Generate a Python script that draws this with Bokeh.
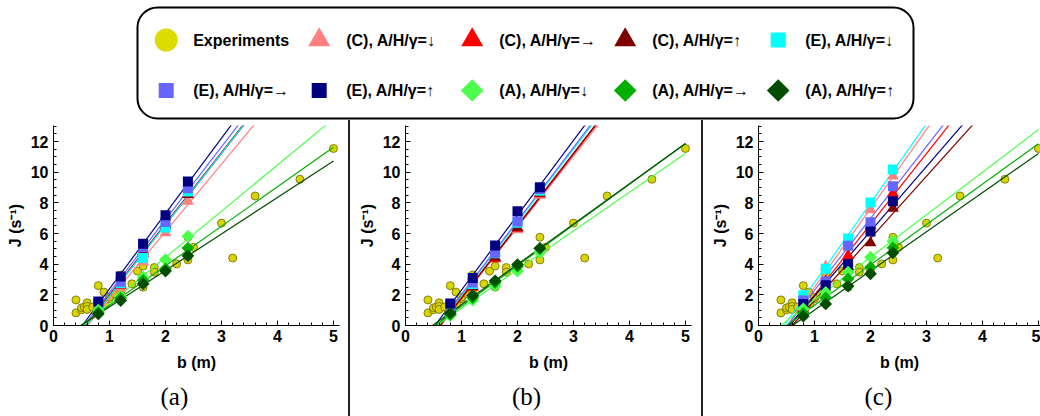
import numpy as np
from bokeh.plotting import figure
from bokeh.layouts import column, row
from bokeh.models import Range1d, SingleIntervalTicker, Title, Div, BoxAnnotation
from bokeh.core.properties import value
from bokeh.embed import file_html
from bokeh.resources import INLINE

# ---------------------------------------------------------------- data
# bottleneck width b (m) used in the simulations
b_sim = [0.8, 1.2, 1.6, 2.0, 2.4]

# experimental flow J (1/s) against bottleneck width b (m)
exp_b = [0.4, 0.4, 0.5, 0.5, 0.55, 0.6, 0.6, 0.6, 0.7, 0.8, 0.9, 0.92, 1.0, 1.0,
         1.1, 1.2, 1.2, 1.2, 1.4, 1.5, 1.6, 1.6, 1.8, 1.8, 2.0, 2.2, 2.4, 2.4,
         2.5, 3.0, 3.2, 3.6, 4.4, 5.0]
exp_j = [1.67, 0.82, 1.02, 1.15, 1.2, 1.48, 1.25, 1.05, 1.2, 2.6, 2.18, 1.42, 1.74, 1.85,
         2.07, 3.3, 2.2, 2.45, 2.72, 3.55, 3.88, 2.5, 3.78, 3.48, 3.55, 4.02, 4.28, 5.76,
         5.1, 6.68, 4.4, 8.45, 9.54, 11.55]

# panel (a)
a_c_down = [1.1, 2.45, 4.15, 6.05, 8.1]
a_c_right = [1.2, 2.6, 4.7, 6.5, 8.55]
a_c_up = [1.2, 2.7, 4.85, 6.6, 8.55]
a_e_down = [1.25, 2.75, 4.4, 6.4, 8.75]
a_e_right = [1.4, 2.85, 5.1, 6.75, 8.95]
a_e_up = [1.57, 3.2, 5.33, 7.2, 9.4]
a_a_down = [1.0, 1.9, 3.15, 4.3, 5.83]
a_a_right = [0.85, 1.78, 2.95, 3.7, 5.05]
a_a_up = [0.75, 1.63, 2.72, 3.55, 4.55]

# panel (b)
b_c_down = [1.05, 2.6, 4.4, 6.25, 8.5]
b_c_right = [1.1, 2.5, 4.35, 6.35, 8.6]
b_c_up = [1.15, 2.55, 4.45, 6.4, 8.65]
b_e_down = [1.25, 2.7, 4.72, 6.7, 8.8]
b_e_right = [1.3, 2.8, 4.75, 6.78, 8.9]
b_e_up = [1.43, 3.1, 5.22, 7.45, 9.02]
b_a_down = [0.65, 1.65, 2.6, 3.55, 4.75]
b_a_right = [0.72, 1.82, 2.8, 3.85, 5.02]
b_a_up = [0.8, 1.95, 2.92, 3.98, 5.04]

# panel (c)
c_c_down = [1.3, 3.85, 5.45, 7.55, 9.75]
c_c_right = [1.2, 2.9, 4.57, 6.5, 8.63]
c_c_up = [1.05, 2.35, 3.85, 5.39, 7.65]
c_e_down = [1.98, 3.7, 5.67, 8.02, 10.18]
c_e_right = [1.63, 2.87, 5.2, 6.74, 9.09]
c_e_up = [1.41, 2.63, 4.02, 6.13, 8.11]
c_a_down = [1.09, 2.17, 3.48, 4.46, 5.5]
c_a_right = [0.8, 1.8, 3.04, 3.8, 5.07]
c_a_up = [0.61, 1.41, 2.57, 3.37, 4.74]

series_labels = ["(C), A/H/γ=↓", "(C), A/H/γ=→", "(C), A/H/γ=↑",
                 "(E), A/H/γ=↓", "(E), A/H/γ=→", "(E), A/H/γ=↑",
                 "(A), A/H/γ=↓", "(A), A/H/γ=→", "(A), A/H/γ=↑"]
series_colors = ["#FF8080", "#FF0000", "#800000",
                 "#00FFFF", "#6666FF", "#000080",
                 "#4DFF4D", "#00B000", "#004D00"]
series_shapes = ["tri", "tri", "tri", "sq", "sq", "sq", "dia", "dia", "dia"]

panels = [
    ("(a)", [a_c_down, a_c_right, a_c_up, a_e_down, a_e_right, a_e_up, a_a_down, a_a_right, a_a_up]),
    ("(b)", [b_c_down, b_c_right, b_c_up, b_e_down, b_e_right, b_e_up, b_a_down, b_a_right, b_a_up]),
    ("(c)", [c_c_down, c_c_right, c_c_up, c_e_down, c_e_right, c_e_up, c_a_down, c_a_right, c_a_up]),
]

EXP_FILL = "#D8D400"
EXP_LINE = "#6E6A00"
SANS = "Liberation Sans"
SERIF = "Liberation Serif"

# marker look per shape: (bokeh marker, size, angle)
SHAPE_PLOT = {"tri": ("triangle", 12, 0.0), "sq": ("square", 10, 0.0), "dia": ("square", 9, np.pi / 4)}
SHAPE_LEG = {"tri": ("triangle", 22, 0.0), "sq": ("square", 15, 0.0), "dia": ("square", 16, np.pi / 4)}

PX_PER_B = 56.0
Y_END = 13.05


def make_panel(tag, series, width, left, right):
    frame_w = width - left - right
    p = figure(width=width, height=296,
               x_range=Range1d(0, frame_w / PX_PER_B), y_range=Range1d(0, Y_END),
               min_border_left=left, min_border_right=right,
               min_border_top=5, min_border_bottom=91,
               toolbar_location=None, output_backend="svg")
    p.outline_line_color = None
    p.grid.visible = False

    p.xaxis.ticker = SingleIntervalTicker(interval=1, num_minor_ticks=5)
    p.yaxis.ticker = SingleIntervalTicker(interval=2, num_minor_ticks=4)
    for ax in (p.xaxis, p.yaxis):
        ax.axis_line_color = "black"
        ax.major_tick_line_color = "black"
        ax.minor_tick_line_color = "black"
        ax.major_tick_in = 5
        ax.major_tick_out = 0
        ax.minor_tick_in = 3
        ax.minor_tick_out = 0
        ax.major_label_text_font = SANS
        ax.major_label_text_font_style = "bold"
        ax.major_label_text_font_size = "16px"
        ax.major_label_text_color = "black"
        ax.axis_label_text_font = SANS
        ax.axis_label_text_font_style = "bold"
        ax.axis_label_text_font_size = "16px"
        ax.axis_label_text_color = "black"
    p.xaxis.axis_label = "b (m)"
    p.yaxis.axis_label = "J (s⁻¹)"
    p.xaxis.major_label_standoff = 4
    p.xaxis.axis_label_standoff = 9
    p.yaxis.major_label_standoff = 5
    p.yaxis.axis_label_standoff = 4

    # experiments
    p.scatter(exp_b, exp_j, marker="circle", size=8, fill_color=EXP_FILL,
              line_color=EXP_LINE, line_width=0.8)

    # least-squares fit line of every simulated series, from J = 0 up to b = 5
    for vals, col in zip(series, series_colors):
        k, d = np.polyfit(b_sim, vals, 1)
        x0 = -d / k
        p.line([x0, 5.0], [0.0, k * 5.0 + d], line_color=col, line_width=1.2)

    # simulated points
    for vals, col, shp in zip(series, series_colors, series_shapes):
        mk, sz, ang = SHAPE_PLOT[shp]
        p.scatter(b_sim, vals, marker=mk, size=sz, angle=ang,
                  fill_color=col, line_color=None)

    # panel tag, centred under the whole panel
    p.add_layout(Title(text=tag, align="left", offset=width / 2 - 14 - left, standoff=14,
                       text_font=SERIF, text_font_style="normal",
                       text_font_size="25px", text_color="black"), "below")
    return p


pa = make_panel(panels[0][0], panels[0][1], 348, 53, 9)
pb = make_panel(panels[1][0], panels[1][1], 351, 55, 10)
pc = make_panel(panels[2][0], panels[2][1], 337, 55, 0)
pc.below[-1].offset = 175 - 14 - 55


def separator():
    return Div(width=2, height=296, margin=0,
               styles={"background-color": "#222222"})


# ---------------------------------------------------------------- key
leg = figure(width=1040, height=120, x_range=Range1d(0, 1040), y_range=Range1d(0, 120),
             min_border=0, toolbar_location=None, output_backend="svg",
             x_axis_type=None, y_axis_type=None)
leg.outline_line_color = None
leg.grid.visible = False
leg.add_layout(BoxAnnotation(left=137, right=913, top=113, bottom=2,
                             fill_alpha=0, line_color="black", line_alpha=1.0,
                             line_width=2, border_radius=20))

key_labels = ["Experiments"] + series_labels
key_colors = ["#DCDC00"] + series_colors
key_shapes = ["circ"] + series_shapes
col_x0, col_step = 165.7, 153.0
row_y = [120 - 39.5, 120 - 90.0]
for i, (lab, col, shp) in enumerate(zip(key_labels, key_colors, key_shapes)):
    cx = col_x0 + (i % 5) * col_step
    cy = row_y[i // 5]
    if shp == "circ":
        leg.scatter([cx], [cy], marker="circle", size=23, fill_color=col, line_color=None)
    else:
        mk, sz, ang = SHAPE_LEG[shp]
        leg.scatter([cx], [cy], marker=mk, size=sz, angle=ang, fill_color=col, line_color=None)
    leg.text([cx + 27], [cy], text=[lab], text_font=value(SANS), text_font_style="bold",
             text_font_size="16px", text_baseline="middle", text_align="left",
             text_color="black")

layout = column(leg, row(pa, separator(), pb, separator(), pc))
open("out.html", "w").write(file_html(layout, INLINE))
